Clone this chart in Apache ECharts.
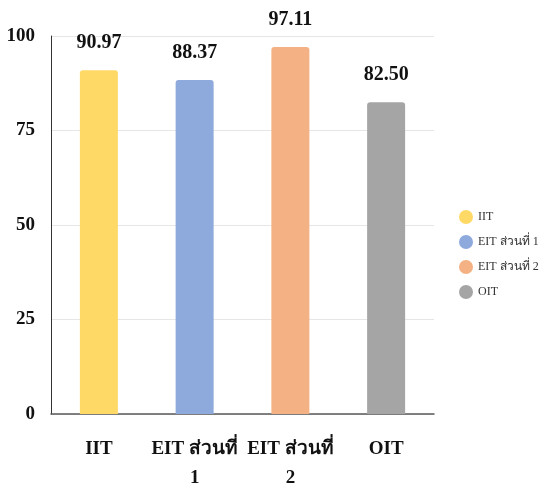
<!DOCTYPE html>
<html>
<head>
<meta charset="utf-8">
<script src="https://cdn.jsdelivr.net/npm/echarts@6/dist/echarts.min.js"></script>
<style>
html, body { margin: 0; padding: 0; background: #fff; }
#chart { width: 541px; height: 485px; }
</style>
</head>
<body>
<div id="chart"></div>
<script>
// ข้อมูล
var categories = ['IIT', 'EIT ส่วนที่ 1', 'EIT ส่วนที่ 2', 'OIT'];
var axisLabels = ['IIT', 'EIT ส่วนที่\n1', 'EIT ส่วนที่\n2', 'OIT'];
var values = [90.97, 88.37, 97.11, 82.50];
var colors = ['#FFD966', '#8EA9DB', '#F4B183', '#A5A5A5'];
var yTicks = [0, 25, 50, 75, 100];

var font = '"Liberation Serif", "Times New Roman", serif';

// one series per category so the legend lists each bar
var series = categories.map(function (name, i) {
    var d = values.map(function (v, j) { return j === i ? v : '-'; });
    return {
        name: name,
        type: 'bar',
        data: d,
        barWidth: 38,
        barGap: '-100%',
        itemStyle: { color: colors[i], borderRadius: [3, 3, 0, 0] },
        label: {
            show: true,
            position: 'top',
            distance: 17,
            fontFamily: font,
            fontWeight: 'bold',
            fontSize: 20,
            color: '#111',
            formatter: function (p) { return p.value.toFixed(2); }
        }
    };
});

var myChart = echarts.init(document.getElementById('chart'));
var option = {
    animation: false,
    legend: {
        orient: 'vertical',
        left: 454,
        top: 205,
        icon: 'circle',
        itemWidth: 14,
        itemHeight: 14,
        itemGap: 11,
        data: categories,
        textStyle: { fontFamily: font, fontSize: 12, color: '#333' }
    },
    grid: { left: 51, right: 107, top: 36, bottom: 71, outerBoundsMode: 'none' },
    xAxis: {
        type: 'category',
        data: axisLabels,
        axisTick: { show: false },
        axisLine: { lineStyle: { color: '#595959', width: 1.5 } },
        axisLabel: {
            interval: 0,
            margin: 21,
            lineHeight: 29,
            fontFamily: font,
            fontWeight: 'bold',
            fontSize: 19,
            color: '#111'
        }
    },
    yAxis: {
        type: 'value',
        min: yTicks[0],
        max: yTicks[yTicks.length - 1],
        interval: 25,
        axisLine: { show: true, lineStyle: { color: '#333', width: 1 } },
        axisTick: { show: false },
        splitLine: { lineStyle: { color: '#e6e6e6' } },
        axisLabel: {
            margin: 16,
            fontFamily: font,
            fontWeight: 'bold',
            fontSize: 19,
            color: '#111'
        }
    },
    series: series
};
myChart.setOption(option);
</script>
</body>
</html>
